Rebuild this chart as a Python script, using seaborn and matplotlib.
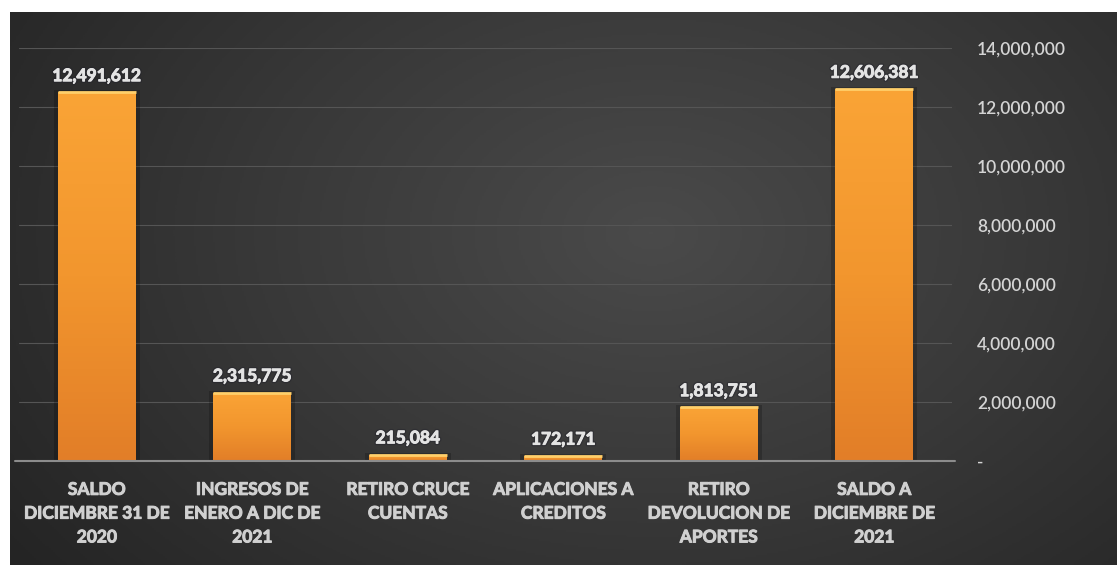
import numpy as np
import matplotlib
matplotlib.use("Agg")
import matplotlib.pyplot as plt
import matplotlib.patheffects as pe
from matplotlib.colors import LinearSegmentedColormap
from matplotlib.ticker import FuncFormatter, FixedLocator
import pandas as pd
import seaborn as sns

# Movimiento de aportes 2021
categories = [
    "SALDO\nDICIEMBRE 31 DE\n2020",
    "INGRESOS DE\nENERO A DIC DE\n2021",
    "RETIRO CRUCE\nCUENTAS",
    "APLICACIONES A\nCREDITOS",
    "RETIRO\nDEVOLUCION DE\nAPORTES",
    "SALDO A\nDICIEMBRE DE\n2021",
]
values = [12491612, 2315775, 215084, 172171, 1813751, 12606381]
y_ticks = [0, 2000000, 4000000, 6000000, 8000000, 10000000, 12000000, 14000000]

sns.set_theme(style="dark")
plt.rcParams["font.family"] = ["Lato", "DejaVu Sans"]

W, H = 1117, 565
fig = plt.figure(figsize=(W / 100, H / 100), dpi=100, facecolor="white")

# dark radial background panel
bg = fig.add_axes([10 / W, 0, 1 - 10 / W, 553 / H])
ny, nx = 300, 600
yy, xx = np.mgrid[0:1:ny * 1j, 0:1:nx * 1j]
dist = np.sqrt(((xx - 0.58) / 0.72) ** 2 + ((yy - 0.6) / 1.0) ** 2)
bg_cmap = LinearSegmentedColormap.from_list("bg", ["#4a4a4a", "#383838", "#242424"])
bg.imshow(np.clip(dist, 0, 1), cmap=bg_cmap, aspect="auto", extent=[0, 1, 0, 1],
          origin="lower", vmin=0, vmax=1)
bg.axis("off")

ax = fig.add_axes([19 / W, 104 / H, 933 / W, 413 / H])
ax.patch.set_alpha(0)

df = pd.DataFrame({"categoria": categories, "valor": values})
sns.barplot(data=df, x="categoria", y="valor", ax=ax, width=0.5,
            color="#F39A2F", saturation=1, zorder=3, linewidth=0, edgecolor="none")

# vertical orange gradient inside each bar, bright rim on top
bar_cmap = LinearSegmentedColormap.from_list("bar", ["#E27E28", "#F2962E", "#FAA436"])
grad = np.linspace(0, 1, 256).reshape(-1, 1)
for p in list(ax.patches):
    x0, w, h = p.get_x(), p.get_width(), p.get_height()
    shadow = plt.Rectangle((x0 - 0.025, 0), w + 0.05, h + 70000, color="black",
                           alpha=0.2, zorder=2, lw=0)
    ax.add_patch(shadow)
    im = ax.imshow(grad, cmap=bar_cmap, aspect="auto", origin="lower",
                   extent=[x0, x0 + w, 0, h], zorder=3.5)
    im.set_clip_path(p)
    ax.plot([x0, x0 + w], [h, h], color="#FFCF6A", lw=2, zorder=4,
            solid_capstyle="butt")

ax.set_xlim(-0.5, 5.5)
ax.set_ylim(0, 14000000)

# value labels
ax.bar_label(ax.containers[0], labels=[f"{v:,.0f}" for v in values], padding=6,
             color="#e4e4e4", fontsize=12.5, fontweight="bold", zorder=5,
             path_effects=[pe.Stroke(linewidth=2.6, foreground="#20202a", alpha=0.4),
                           pe.Stroke(linewidth=0.7, foreground="#e4e4e4"),
                           pe.Normal()])

# axes styling
ax.set_xticks(range(len(categories)))
ax.set_xticklabels(categories, fontweight="bold", linespacing=1.6,
                   fontsize=12.5, color="#d0d0d0",
                   path_effects=[pe.withStroke(linewidth=0.7, foreground="#d0d0d0")])
ax.yaxis.tick_right()
ax.yaxis.set_major_locator(FixedLocator(y_ticks))
ax.yaxis.set_major_formatter(FuncFormatter(lambda v, _: "-" if v == 0 else f"{v:,.0f}"))
ax.tick_params(axis="y", length=0, pad=18, labelcolor="#d4d4d4", labelsize=12.5)
ax.tick_params(axis="x", length=0, pad=15)
for lab in ax.get_yticklabels():
    lab.set_fontweight("semibold")
ax.set_xlabel("")
ax.set_ylabel("")
ax.grid(axis="y", color="#555555", lw=0.8, zorder=0)
ax.grid(axis="x", visible=False)
ax.set_axisbelow(True)
for s in ax.spines.values():
    s.set_visible(False)
ax.axhline(0, xmin=-0.004, xmax=1.003, color="#8c8c8c", lw=1.5, zorder=6, clip_on=False)

fig.savefig("out.png", dpi=100, facecolor=fig.get_facecolor())
